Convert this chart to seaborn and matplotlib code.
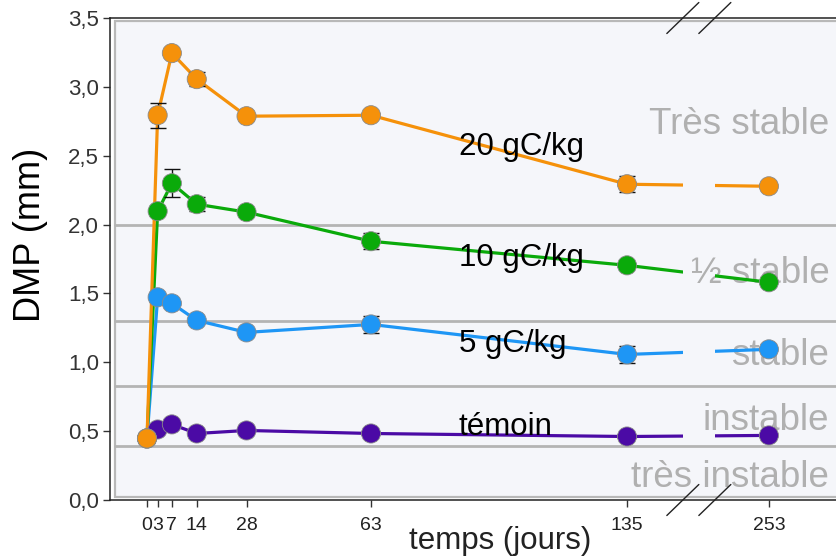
import numpy as np
import pandas as pd
import matplotlib
matplotlib.use("Agg")
import matplotlib.pyplot as plt
import seaborn as sns
from matplotlib.path import Path
from matplotlib.patches import Rectangle
from matplotlib.ticker import FuncFormatter, FixedLocator

# --- data -------------------------------------------------------------
days = [0, 3, 7, 14, 28, 63, 135, 253]
dmp_temoin = [0.447, 0.512, 0.549, 0.483, 0.505, 0.483, 0.461, 0.469]
dmp_5 = [0.447, 1.472, 1.428, 1.304, 1.217, 1.275, 1.057, 1.094]
dmp_10 = [0.447, 2.097, 2.300, 2.148, 2.090, 1.879, 1.704, 1.581]
dmp_20 = [0.447, 2.794, 3.245, 3.056, 2.787, 2.794, 2.293, 2.278]
err_temoin = [0, 0, 0, 0, 0, 0, 0, 0]
err_5 = [0, 0, 0, 0, 0, 0.06, 0.06, 0]
err_10 = [0, 0, 0.10, 0.05, 0, 0.06, 0, 0]
err_20 = [0, 0.09, 0, 0.05, 0, 0, 0.06, 0]
treatments = ["témoin", "5 gC/kg", "10 gC/kg", "20 gC/kg"]
colors = ["#4B0AA5", "#1E96F5", "#0AAA0A", "#F5910A"]
series_label_y = [0.469, 1.072, 1.697, 2.504]

class_limits = [2.0, 1.3, 0.83, 0.39]
class_names = ["Très stable", "½ stable", "stable", "instable", "très instable"]
class_label_y = [2.656, 1.573, 0.977, 0.505, 0.091]

y_ticks = [0.0, 0.5, 1.0, 1.5, 2.0, 2.5, 3.0, 3.5]

# broken time axis: days between BREAK_FROM and BREAK_TO squeezed into BREAK_WIDTH
BREAK_FROM, BREAK_TO, BREAK_WIDTH = 150.7, 237.8, 9.0
SHIFT = BREAK_TO - BREAK_FROM - BREAK_WIDTH
SQUEEZE = BREAK_WIDTH / (BREAK_TO - BREAK_FROM)


def fwd(d):
    d = np.asarray(d, dtype=float)
    return np.where(d <= BREAK_FROM, d,
                    np.where(d >= BREAK_TO, d - SHIFT,
                             BREAK_FROM + (d - BREAK_FROM) * SQUEEZE))


def inv(u):
    u = np.asarray(u, dtype=float)
    return np.where(u <= BREAK_FROM, u,
                    np.where(u >= BREAK_FROM + BREAK_WIDTH, u + SHIFT,
                             BREAK_FROM + (u - BREAK_FROM) / SQUEEZE))


values = {"témoin": dmp_temoin, "5 gC/kg": dmp_5, "10 gC/kg": dmp_10, "20 gC/kg": dmp_20}
errors = {"témoin": err_temoin, "5 gC/kg": err_5, "10 gC/kg": err_10, "20 gC/kg": err_20}
df = pd.concat(
    [pd.DataFrame({"jours": days, "DMP": values[t], "err": errors[t], "traitement": t})
     for t in treatments],
    ignore_index=True,
)

# --- figure -----------------------------------------------------------
sns.set_style("ticks")
plt.rcParams["font.family"] = ["Liberation Sans", "DejaVu Sans"]

W, H = 836, 558
fig = plt.figure(figsize=(W / 100, H / 100), dpi=100)
fig.patch.set_facecolor("white")
ax = fig.add_axes([110 / W, 58 / H, 730 / W, 482 / H])
ax.set_facecolor("white")

ax.set_xscale("function", functions=(fwd, inv))
ax.set_xlim(-10.4, 273.0)
ax.set_ylim(0, 3.5)

# inner shaded frame
ax.add_patch(Rectangle((5 / 730, 3 / 482), 1.2, 1 - 6 / 482, transform=ax.transAxes,
                       facecolor="#F5F6FA", edgecolor="#B8B8B8", lw=1.6, zorder=0.2,
                       clip_on=False))

# stability class limits and names
for lim in class_limits:
    ax.axhline(lim, xmin=5 / 730, color="#B4B4B4", lw=2.0, zorder=1)
for name, yv in zip(class_names, class_label_y):
    ax.text(270.0, yv, name, ha="right", va="baseline", fontsize=26.5,
            color="#B0B0B0", zorder=1.5)

palette = dict(zip(treatments, colors))
n_before = len(ax.lines)
sns.lineplot(data=df, x="jours", y="DMP", hue="traitement", hue_order=treatments,
             palette=palette, sort=False, errorbar=None, legend=False,
             linewidth=2.3, ax=ax, zorder=2)
data_lines = list(ax.lines)[n_before:]

for t in treatments:
    sub = df[(df["traitement"] == t) & (df["err"] > 0)]
    if len(sub):
        ax.errorbar(sub["jours"], sub["DMP"], yerr=sub["err"], fmt="none",
                    ecolor="#111111", elinewidth=1.0, capsize=6, capthick=1.0,
                    zorder=2.5)

sns.scatterplot(data=df, x="jours", y="DMP", hue="traitement", hue_order=treatments,
                palette=palette, s=190, edgecolor="#8A8A8A", linewidth=0.6,
                legend=False, ax=ax, zorder=3)

# gap in the curves across the axis break
to_axes = ax.transAxes.inverted()
gx0 = to_axes.transform(ax.transData.transform((BREAK_FROM, 0)))[0]
gx1 = to_axes.transform(ax.transData.transform((BREAK_TO, 0)))[0]
verts = [(-0.1, -0.1), (gx0, -0.1), (gx0, 1.1), (-0.1, 1.1), (-0.1, -0.1),
         (gx1, -0.1), (1.2, -0.1), (1.2, 1.1), (gx1, 1.1), (gx1, -0.1)]
codes = [Path.MOVETO, Path.LINETO, Path.LINETO, Path.LINETO, Path.CLOSEPOLY] * 2
clip = Path(verts, codes)
for ln in data_lines:
    ln.set_clip_path(clip, ax.transAxes)

# break marks on top and bottom spines
dx, dy = 16 / 730, 15.5 / 482
for gx in (gx0, gx1):
    for yb in (0.0, 1.0):
        ax.plot([gx - dx, gx + dx], [yb - dy, yb + dy], transform=ax.transAxes,
                color="#222222", lw=1.0, clip_on=False, zorder=6)

# series names
for t, yv in zip(treatments, series_label_y):
    ax.text(87.7, yv, t, ha="left", va="baseline", fontsize=22.5, color="black", zorder=5)

# axes styling
for side in ("left", "bottom", "top"):
    ax.spines[side].set_color("#222222")
    ax.spines[side].set_linewidth(1.1)
ax.spines["right"].set_visible(False)

ax.xaxis.set_major_locator(FixedLocator(days))
ax.set_xticklabels([str(d) for d in days], fontsize=14, color="#222222")
ax.set_yticks(y_ticks)
ax.yaxis.set_major_formatter(FuncFormatter(lambda v, p: f"{v:.1f}".replace(".", ",")))
ax.tick_params(axis="y", labelsize=16, labelcolor="#333333", length=5, width=1.0,
               color="#333333", pad=3)
ax.tick_params(axis="x", length=5, width=1.0, color="#333333", pad=7)
ax.set_xlabel("")
ax.set_ylabel("")

fig.text(31 / W, 1 - 235 / H, "DMP (mm)", rotation=90, ha="center", va="center",
         fontsize=26, color="black")
fig.text(500 / W, 1 - 541 / H, "temps (jours)", ha="center", va="center",
         fontsize=22.5, color="#222222")

fig.savefig("out.png", dpi=100, facecolor="white")
